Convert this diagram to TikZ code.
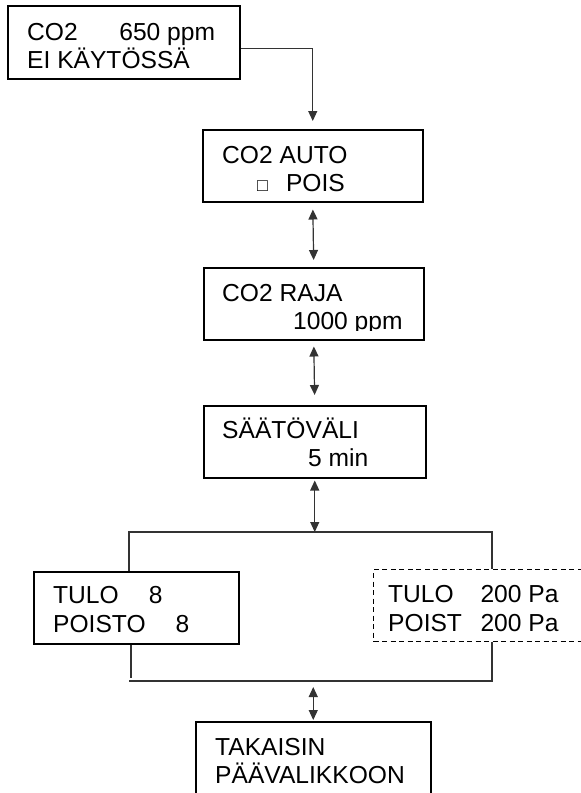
\documentclass[tikz,border=0pt]{standalone}
\usepackage{fontspec}
\setmainfont{Liberation Sans}
\usetikzlibrary{arrows.meta}

\begin{document}
\begin{tikzpicture}[x=1pt, y=-1pt,
    menubox/.style={draw=black, line width=1.5pt, rectangle, anchor=north west, inner sep=0pt},
    optbox/.style={menubox, line width=1.3pt, dash pattern=on 5pt off 3.5pt},
    lbl/.style={anchor=base west, inner sep=0pt, font=\fontsize{24.6}{28}\selectfont},
    link/.style={draw=black!80, line width=1.2pt},
    tip/.style={-{Triangle[length=10pt,width=9pt]}},
    both/.style={{Triangle[length=10pt,width=9pt]}-{Triangle[length=10pt,width=9pt]}}]
        \useasboundingbox (0,0) rectangle (581,793);

        % menu boxes
        \node[menubox, minimum width=232pt, minimum height=73pt] (b1) at (7,5) {};
        \node[menubox, minimum width=220pt, minimum height=72pt] (b2) at (202,129) {};
        \node[menubox, minimum width=220pt, minimum height=72pt] (b3) at (203,267) {};
        \node[menubox, minimum width=222pt, minimum height=72pt] (b4) at (203,405) {};
        \node[menubox, minimum width=205pt, minimum height=72pt] (b5) at (33,571) {};
        \node[optbox, minimum width=230pt, minimum height=72pt] (b6) at (373,569) {};
        \node[menubox, minimum width=235pt, minimum height=80pt] (b7) at (195,721) {};

        % texts
        \node[lbl] (t1a) at (27,40) {CO2\hspace{41.6pt}650 ppm};
        \node[lbl] (t1b) at (27,68) {EI KÄYTÖSSÄ};
        \node[lbl] (t2a) at (222,163) {CO2 AUTO};
        \node[lbl] (t2b) at (257,191) {{\fontsize{18}{18}\selectfont □}\hspace{18pt}POIS};
        \node[lbl] (t3a) at (222,301) {CO2 RAJA};
        \begin{scope}
            \clip (203,267) rectangle (423,330);
            \node[lbl] (t3b) at (293,329) {1000 ppm};
        \end{scope}
        \node[lbl] (t4a) at (222,438) {SÄÄTÖVÄLI};
        \node[lbl] (t4b) at (308,466) {5 min};
        \node[lbl] (t5a) at (53,603) {TULO\hspace{30pt}8};
        \node[lbl] (t5b) at (53,632) {POISTO\hspace{30pt}8};
        \node[lbl] (t6a) at (388,602) {TULO\hspace{26.7pt}200 Pa};
        \node[lbl] (t6b) at (388,631) {POIST\hspace{18.5pt}200 Pa};
        \node[lbl] (t7a) at (215,755) {TAKAISIN};
        \node[lbl] (t7b) at (215,783) {PÄÄVALIKKOON};

        % fork and join points
        \coordinate (forkL) at (129,532);
        \coordinate (forkR) at (492,532);
        \coordinate (dropL) at (131,678);
        \coordinate (joinL) at (129,681);
        \coordinate (joinR) at (492,681);

        % connectors
        \draw[link, tip, shorten >=8pt] ([yshift=-6pt]b1.east) -| (b2.north);
        \draw[link, both, shorten <=7pt, shorten >=7pt] (b2.south) -- (b3.north);
        \draw[link, both, shorten <=6pt, shorten >=10pt] (b3.south) -- (b4.north);
        \draw[link, both, shorten <=2pt] (b4.south) -- (b4.south |- forkL);
        \draw[link] (b5.north -| forkL) |- (forkR) -- (forkR |- b6.north);
        \draw[link] (b5.south -| dropL) -- (dropL);
        \draw[link] (joinL) -- (joinR) -- (joinR |- b6.south);
        \draw[link, both, shorten <=6pt, shorten >=1pt] (b7.north |- joinR) -- (b7.north);
\end{tikzpicture}
\end{document}
